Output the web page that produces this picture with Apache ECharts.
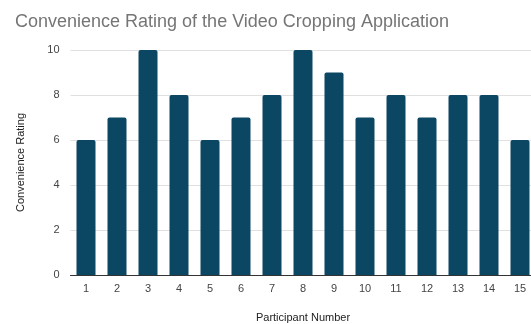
<!DOCTYPE html>
<html>
<head>
<meta charset="utf-8">
<script src="https://cdn.jsdelivr.net/npm/echarts@6/dist/echarts.min.js"></script>
<style>
  html, body { margin: 0; padding: 0; background: #fff; }
  #chart { width: 531px; height: 324px; }
</style>
</head>
<body>
<div id="chart"></div>
<script>
const participants = ['1', '2', '3', '4', '5', '6', '7', '8', '9', '10', '11', '12', '13', '14', '15']
const ratings = [6, 7, 10, 8, 6, 7, 8, 10, 9, 7, 8, 7, 8, 8, 6]
const yTicks = [0, 2, 4, 6, 8, 10]

const font = '"Liberation Sans", Arial, sans-serif'
const chart = echarts.init(document.getElementById('chart'))
const option = {
  animation: false,
  title: {
    text: 'Convenience Rating of the Video Cropping Application',
    left: 10,
    top: 8,
    textStyle: {
      fontFamily: font,
      fontSize: 18,
      fontWeight: 'normal',
      color: '#757575'
    }
  },
  grid: {
    left: 70.5,
    right: -4.5,
    top: 50,
    bottom: 49,
    outerBoundsMode: 'none'
  },
  xAxis: {
    type: 'category',
    data: participants,
    name: 'Participant Number',
    nameLocation: 'middle',
    nameGap: 37,
    nameTextStyle: { fontFamily: font, fontSize: 11, color: '#222' },
    axisTick: { show: false },
    axisLine: { lineStyle: { color: '#333', width: 1 } },
    axisLabel: { fontFamily: font, fontSize: 11, color: '#444', margin: 8 }
  },
  yAxis: {
    type: 'value',
    min: 0,
    max: 10,
    interval: 2,
    name: 'Convenience Rating',
    nameLocation: 'middle',
    nameGap: 44,
    nameTextStyle: { fontFamily: font, fontSize: 11, color: '#222' },
    axisLine: { show: false },
    axisTick: { show: false },
    axisLabel: {
      fontFamily: font,
      fontSize: 11,
      color: '#444',
      margin: 11,
      formatter: v => (yTicks.includes(v) ? String(v) : '')
    },
    splitLine: { lineStyle: { color: '#e0e0e0', width: 1 } }
  },
  series: [{
    type: 'bar',
    data: ratings,
    barWidth: 19,
    itemStyle: { color: '#0b4763', borderRadius: [2, 2, 0, 0] }
  }]
}
chart.setOption(option)
</script>
</body>
</html>
